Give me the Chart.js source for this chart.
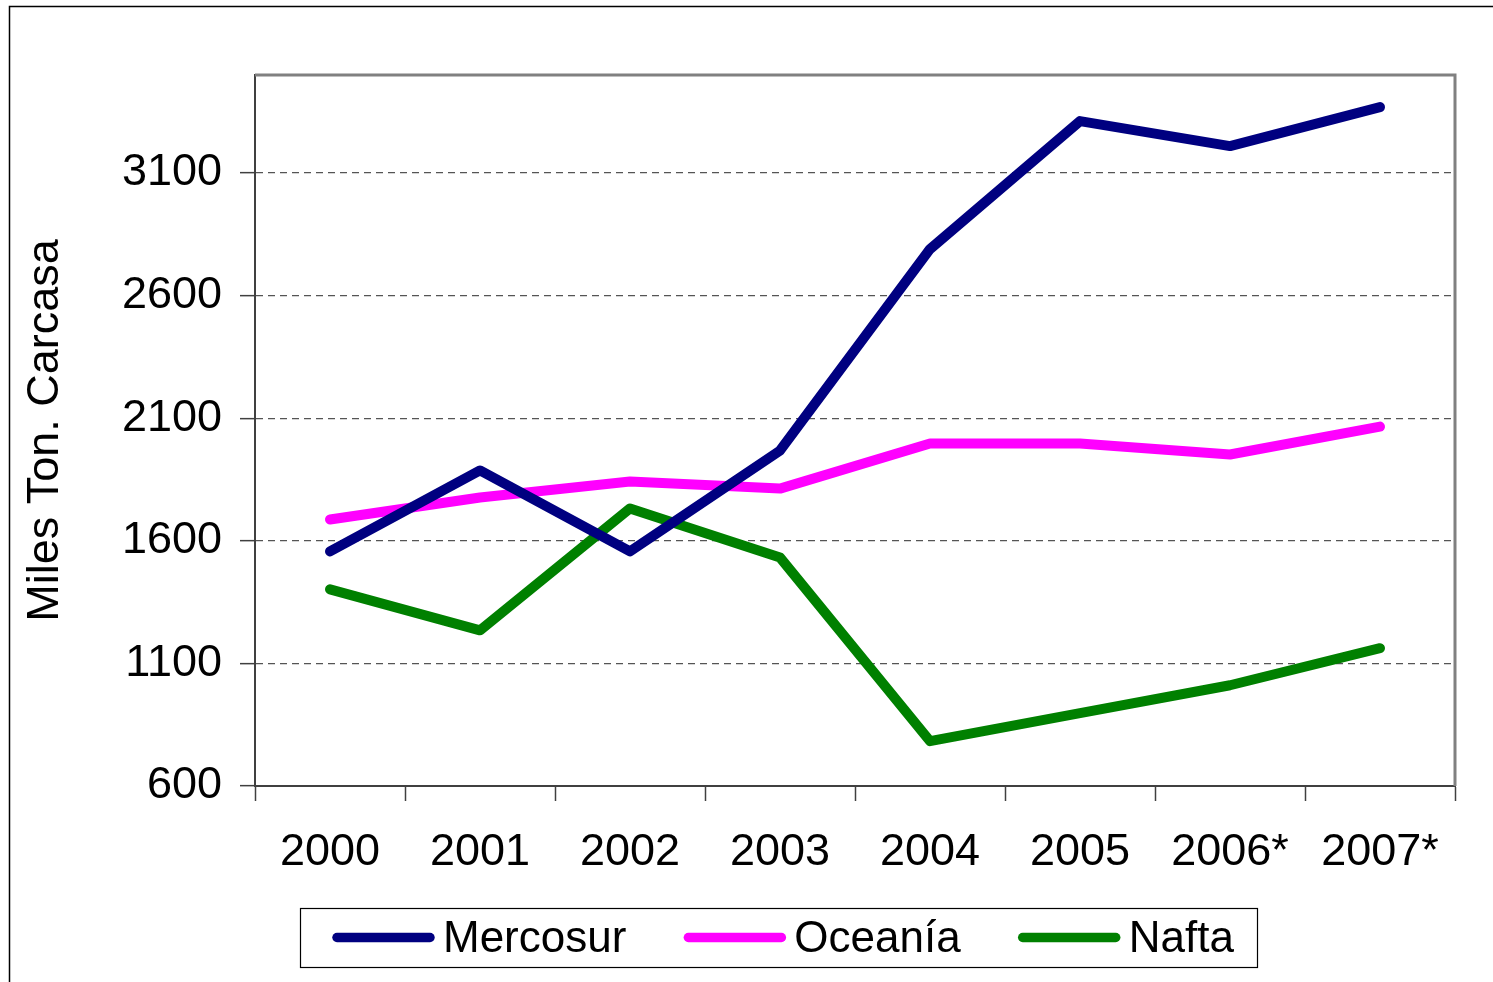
<!DOCTYPE html>
<html>
<head>
<meta charset="utf-8">
<script src="https://cdn.jsdelivr.net/npm/chart.js@4"></script>
<style>
  html, body { margin: 0; padding: 0; background: #fff; }
  #wrap { width: 1493px; height: 982px; }
</style>
</head>
<body>
<div id="wrap"><canvas id="chart" width="1493" height="982"></canvas></div>
<script>
// data
var years = ["2000", "2001", "2002", "2003", "2004", "2005", "2006*", "2007*"];
var mercosur = [1557, 1887, 1557, 1968, 2790, 3312, 3210, 3369];
var oceania = [1687, 1777, 1842, 1813, 1997, 1997, 1952, 2066];
var nafta = [1402, 1235, 1732, 1532, 783, 897, 1011, 1162];
var yTicks = [600, 1100, 1600, 2100, 2600, 3100];

var FONT = "'Liberation Sans', Arial, sans-serif";

// outer frame, plot border and the boxed legend
var frame = {
  id: 'frame',
  beforeDraw: function(chart) {
    var ctx = chart.ctx;
    ctx.save();
    ctx.fillStyle = '#fff';
    ctx.fillRect(0, 0, chart.width, chart.height);
    ctx.strokeStyle = '#000';
    ctx.lineWidth = 1.5;
    ctx.beginPath();
    ctx.moveTo(9.5, chart.height);
    ctx.lineTo(9.5, 6.5);
    ctx.lineTo(chart.width, 6.5);
    ctx.stroke();
    ctx.restore();
  },
  beforeDatasetsDraw: function(chart) {
    var a = chart.chartArea, ctx = chart.ctx;
    ctx.save();
    ctx.strokeStyle = '#808080';
    ctx.lineWidth = 3;
    ctx.beginPath();
    ctx.moveTo(a.left, a.top);
    ctx.lineTo(a.right, a.top);
    ctx.lineTo(a.right, a.bottom);
    ctx.stroke();
    ctx.restore();
  },
  afterDraw: function(chart) {
    var ctx = chart.ctx;
    var bx = 300, by = 908, bw = 957, bh = 59;
    ctx.save();
    ctx.strokeStyle = '#000';
    ctx.lineWidth = 1.2;
    ctx.strokeRect(bx + 0.5, by + 0.5, bw, bh);
    ctx.font = '44px ' + FONT;
    ctx.textBaseline = 'middle';
    var x = bx + 33, cy = by + bh / 2;
    chart.data.datasets.forEach(function(ds) {
      ctx.strokeStyle = ds.borderColor;
      ctx.lineWidth = 9.5;
      ctx.lineCap = 'round';
      ctx.beginPath();
      ctx.moveTo(x + 4, cy);
      ctx.lineTo(x + 97, cy);
      ctx.stroke();
      ctx.fillStyle = '#000';
      ctx.fillText(ds.label, x + 110, cy + 2);
      x += 110 + ctx.measureText(ds.label).width + 58;
    });
    ctx.restore();
  }
};

new Chart(document.getElementById('chart'), {
  type: 'line',
  data: {
    labels: years,
    datasets: [
      { label: 'Mercosur', data: mercosur, borderColor: '#000080' },
      { label: 'Oceanía', data: oceania, borderColor: '#FF00FF' },
      { label: 'Nafta', data: nafta, borderColor: '#008000' }
    ]
  },
  options: {
    responsive: false,
    animation: false,
    layout: { padding: { left: 10, top: 75, right: 38, bottom: 96 } },
    elements: {
      line: { borderWidth: 10, tension: 0, borderCapStyle: 'round', borderJoinStyle: 'round' },
      point: { radius: 0 }
    },
    plugins: {
      legend: { display: false },
      tooltip: { enabled: false }
    },
    scales: {
      x: {
        offset: true,
        grid: {
          offset: true,
          drawOnChartArea: false,
          tickLength: 15,
          tickColor: '#404040',
          tickWidth: 1.5
        },
        border: { color: '#404040', width: 2 },
        ticks: { color: '#000', font: { family: FONT, size: 45 }, padding: 25, maxRotation: 0 },
        afterFit: function(s) { s.height = 100; }
      },
      y: {
        min: 600,
        max: 3500,
        afterBuildTicks: function(s) {
          s.ticks = yTicks.map(function(v) { return { value: v }; });
        },
        grid: {
          color: '#555',
          lineWidth: 1.3,
          tickBorderDash: [],
          tickLength: 15,
          tickColor: '#404040',
          tickWidth: 1.5
        },
        border: { color: '#404040', width: 2, dash: [7, 5] },
        ticks: {
          color: '#000',
          font: { family: FONT, size: 45 },
          padding: 18,
          callback: function(v) { return String(v); }
        },
        title: {
          display: true,
          text: 'Miles Ton. Carcasa',
          color: '#000',
          font: { family: FONT, size: 45 },
          padding: { top: 9, bottom: 0 }
        },
        afterFit: function(s) { s.width = 245; }
      }
    }
  },
  plugins: [frame]
});
</script>
</body>
</html>
